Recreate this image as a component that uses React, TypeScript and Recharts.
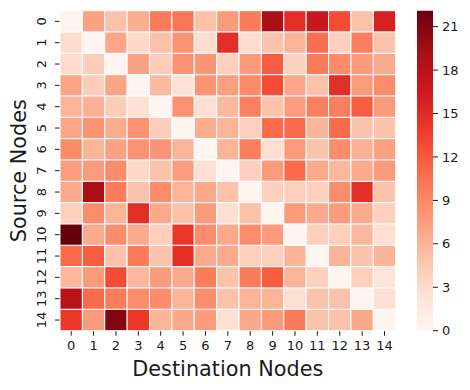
import { Bar, BarChart, Scatter, ScatterChart, XAxis, YAxis } from "recharts";

const nodeIds = [0, 1, 2, 3, 4, 5, 6, 7, 8, 9, 10, 11, 12, 13, 14];
const colorbarTicks = [0, 3, 6, 9, 12, 15, 18, 21];

// rows = source node, columns = destination node
const trafficMatrix = [
  [0, 7.3, 5.1, 6.4, 9.8, 10.2, 5.1, 7.7, 9.8, 19, 14.8, 16.7, 12.9, 5.1, 15.8],
  [3.0, 0, 7.0, 3.3, 5.1, 8.1, 3.0, 14.8, 3.0, 4.9, 6.0, 10.8, 4.0, 9.7, 4.9],
  [3.1, 4.2, 0, 7.3, 4.2, 8.3, 8.1, 4.0, 7.7, 11.9, 3.8, 9.9, 8.7, 7.7, 6.7],
  [7.1, 4.2, 7.1, 0, 5.5, 2.5, 8.2, 7.5, 8.8, 12.9, 7.0, 5.1, 14.8, 7.7, 8.7],
  [6.0, 6.2, 4.2, 2.8, 0, 8.3, 2.8, 5.7, 9.6, 4.9, 7.6, 9.6, 9.7, 11.8, 7.7],
  [7.0, 8.3, 6.5, 8.3, 4.2, 0, 6.5, 6.0, 4.0, 11, 11, 6.0, 11, 4.9, 4.9],
  [8.8, 6.0, 7.3, 8.3, 8.1, 6.0, 0, 6.0, 9.7, 2.8, 7.7, 4.9, 8.7, 6.2, 7.3],
  [7.6, 7.7, 8.7, 3.3, 4.9, 7.6, 2.8, 0, 4.0, 7.7, 11, 6.8, 5.7, 6.7, 7.7],
  [6.7, 19, 9.9, 4.9, 8.7, 6.0, 6.8, 5.0, 0, 4.0, 4.0, 4.0, 8.7, 14.8, 4.9],
  [4.0, 8.7, 6.0, 14.8, 6.8, 5.1, 7.7, 2.8, 5.1, 0, 7.7, 6.7, 7.7, 6.7, 4.0],
  [22.1, 6.7, 8.7, 6.7, 4.0, 14.1, 8.7, 6.8, 8.7, 7.7, 0, 4.0, 4.0, 5.7, 2.8],
  [11, 11.8, 4.9, 9.9, 4.9, 14.8, 6.7, 6.7, 4.0, 4.0, 6.0, 0, 6.0, 4.9, 6.0],
  [5.7, 7.7, 12.9, 5.7, 7.7, 6.7, 9.9, 4.9, 9.9, 11.8, 6.0, 4.0, 0, 4.0, 2.3],
  [18, 11, 9.9, 8.7, 8.7, 6.0, 8.7, 4.9, 6.0, 6.0, 2.8, 4.9, 4.9, 0, 2.8],
  [14.1, 7.7, 20.9, 14.1, 6.0, 6.8, 7.7, 2.8, 6.8, 7.7, 9.9, 4.9, 4.9, 6.8, 0],
];

const REDS = ["#fff5f0", "#fee0d2", "#fcbba1", "#fc9272", "#fb6a4a", "#ef3b2c", "#cb181d", "#a50f15", "#67000d"];

const W = 470;
const H = 390;
const PLOT = { left: 60, top: 10.7, right: 395.7, bottom: 330.7 };
const CELL_W = (PLOT.right - PLOT.left) / nodeIds.length;
const CELL_H = (PLOT.bottom - PLOT.top) / nodeIds.length;
const FONT = "DejaVu Sans, sans-serif";
const INK = "#1a1a1a";

const vmax = Math.max(...trafficMatrix.flat());

function hexToRgb(hex: string) {
  const n = parseInt(hex.slice(1), 16);
  return [(n >> 16) & 255, (n >> 8) & 255, n & 255];
}

function reds(t: number) {
  const p = Math.min(1, Math.max(0, t)) * (REDS.length - 1);
  const i = Math.min(REDS.length - 2, Math.floor(p));
  const f = p - i;
  const a = hexToRgb(REDS[i]);
  const b = hexToRgb(REDS[i + 1]);
  const c = a.map((v, k) => Math.round(v + (b[k] - v) * f));
  return `rgb(${c[0]},${c[1]},${c[2]})`;
}

const cells = trafficMatrix.flatMap((row, src) =>
  row.map((value, dst) => ({ x: nodeIds[dst], y: nodeIds[src], value }))
);

function HeatCell(props: any) {
  const { cx, cy, payload } = props;
  return (
    <rect
      x={cx - CELL_W / 2}
      y={cy - CELL_H / 2}
      width={CELL_W}
      height={CELL_H}
      fill={reds(payload.value / vmax)}
      stroke="#fff"
      strokeWidth={1}
    />
  );
}

function SourceTick(props: any) {
  const { x, y, payload } = props;
  const cx = x - 12;
  return (
    <text
      transform={`translate(${cx},${y}) rotate(-90)`}
      textAnchor="middle"
      dominantBaseline="central"
      fontSize={13}
      fontFamily={FONT}
      fill={INK}
    >
      {payload.value}
    </text>
  );
}

export default function App() {
  return (
    <div style={{ position: "absolute", left: 0, top: 0, width: W, height: H, background: "#fff", fontFamily: FONT }}>
      <ScatterChart
        width={W}
        height={H}
        margin={{ top: PLOT.top, left: PLOT.left - 40, right: W - PLOT.right, bottom: H - PLOT.bottom - 30 }}
      >
        <XAxis
          type="number"
          dataKey="x"
          domain={[-0.5, 14.5]}
          ticks={nodeIds}
          interval={0}
          height={30}
          axisLine={false}
          tickSize={5}
          tickMargin={5}
          tickLine={{ stroke: INK }}
          tick={{ fontSize: 13, fill: INK, fontFamily: FONT }}
          label={({ viewBox }: any) => (
            <text
              x={viewBox.x + viewBox.width / 2}
              y={viewBox.y + 45}
              textAnchor="middle"
              fontSize={20.8}
              fontFamily={FONT}
              fill={INK}
            >
              Destination Nodes
            </text>
          )}
        />
        <YAxis
          type="number"
          dataKey="y"
          domain={[-0.5, 14.5]}
          reversed
          ticks={nodeIds}
          interval={0}
          width={40}
          axisLine={false}
          tickSize={5}
          tickLine={{ stroke: INK }}
          tick={<SourceTick />}
          label={({ viewBox }: any) => (
            <text
              transform={`translate(25.5,${viewBox.y + viewBox.height / 2}) rotate(-90)`}
              textAnchor="middle"
              fontSize={20.8}
              fontFamily={FONT}
              fill={INK}
            >
              Source Nodes
            </text>
          )}
        />
        <Scatter data={cells} shape={HeatCell} isAnimationActive={false} />
      </ScatterChart>

      <div style={{ position: "absolute", left: 417, top: 0 }}>
        <BarChart
          width={70}
          height={H}
          data={[{ name: "scale", v: vmax }]}
          barCategoryGap={0}
          margin={{ top: PLOT.top, bottom: H - PLOT.bottom, left: 0, right: 0 }}
        >
          <defs>
            <linearGradient id="redsScale" x1="0" y1="1" x2="0" y2="0">
              {REDS.map((c, i) => (
                <stop key={c} offset={i / (REDS.length - 1)} stopColor={c} />
              ))}
            </linearGradient>
          </defs>
          <XAxis dataKey="name" hide />
          <YAxis
            orientation="right"
            domain={[0, vmax]}
            ticks={colorbarTicks}
            width={54}
            axisLine={false}
            tickSize={5}
            tickMargin={4}
            tickLine={{ stroke: INK }}
            tick={{ fontSize: 13, fill: INK, fontFamily: FONT, textAnchor: "start" }}
          />
          <Bar dataKey="v" fill="url(#redsScale)" isAnimationActive={false} />
        </BarChart>
      </div>
    </div>
  );
}
